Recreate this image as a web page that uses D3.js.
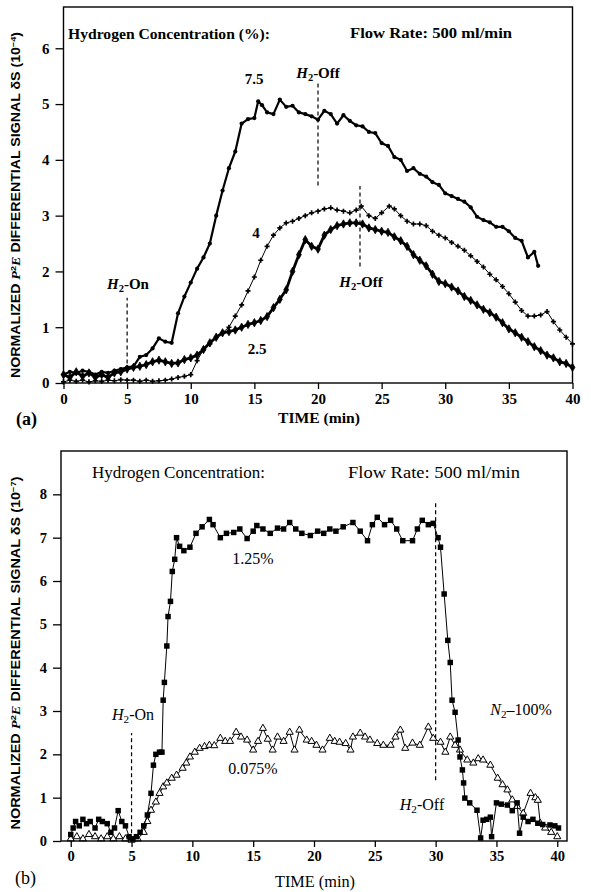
<!DOCTYPE html>
<html>
<head>
<meta charset="utf-8">
<script src="https://cdn.jsdelivr.net/npm/d3@7/dist/d3.min.js"></script>
<style>
  body { margin: 0; background: #fff; }
  svg { display: block; }
  text { font-family: "Liberation Serif", "Times New Roman", serif; fill: #000; }
</style>
</head>
<body>
<div id="chart"></div>
<script>
// ---- data: [time (min), signal] ----
const xTicks = [0, 5, 10, 15, 20, 25, 30, 35, 40];
const yTicksA = [0, 1, 2, 3, 4, 5, 6];
const yTicksB = [0, 1, 2, 3, 4, 5, 6, 7, 8];

// panel (a), units 10^-4
const conc75 = [[0,0.15],[0.5,0.2],[1,0.18],[1.5,0.22],[2,0.2],[2.5,0.15],[3,0.2],[3.5,0.18],[4,0.22],[4.5,0.25],
  [5,0.28],[5.5,0.3],[6,0.47],[6.5,0.5],[7,0.62],[7.5,0.8],[8,0.74],[8.5,0.72],[9,1.25],[9.5,1.55],[10,1.8],
  [10.5,2.05],[11,2.25],[11.5,2.5],[12,3.0],[12.5,3.45],[13,3.85],[13.5,4.15],[14,4.65],[14.5,4.73],[15,4.75],
  [15.3,5.05],[15.6,4.98],[16,4.85],[16.5,4.82],[17,5.08],[17.5,4.95],[18,4.97],[18.5,4.85],[19,4.82],[19.5,4.78],
  [20,4.72],[20.5,4.88],[21,4.82],[21.5,4.65],[22,4.8],[22.5,4.7],[23,4.62],[23.5,4.6],[24,4.5],[24.5,4.48],
  [25,4.3],[25.5,4.25],[26,4.05],[26.5,4.0],[27,3.8],[27.5,3.85],[28,3.75],[28.5,3.7],[29,3.6],[29.5,3.55],
  [30,3.4],[30.5,3.35],[31,3.3],[31.5,3.25],[32,3.15],[32.5,2.98],[33,2.92],[33.5,2.88],[34,2.8],[34.5,2.8],
  [35,2.72],[35.5,2.6],[36,2.55],[36.5,2.25],[37,2.35],[37.3,2.1]];

const conc4 = [[0,0.02],[0.5,0.05],[1,0.03],[1.5,0.05],[2,0.02],[2.5,0.04],[3,0.03],[3.5,0.05],[4,0.04],[4.5,0.06],
  [5,0.05],[5.5,0.05],[6,0.03],[6.5,0.05],[7,0.03],[7.5,0.04],[8,0.05],[8.5,0.07],[9,0.1],[9.5,0.12],[10,0.15],
  [10.5,0.4],[11,0.6],[11.5,0.7],[12,0.82],[12.5,0.9],[13,1.0],[13.5,1.2],[14,1.4],[14.5,1.65],[15,1.9],
  [15.5,2.2],[16,2.45],[16.5,2.65],[17,2.78],[17.5,2.87],[18,2.9],[18.5,2.95],[19,3.0],[19.5,3.05],[20,3.08],
  [20.5,3.12],[21,3.14],[21.5,3.1],[22,3.08],[22.5,3.05],[23,3.1],[23.4,3.17],[24,3.0],[24.5,2.95],[25,3.05],
  [25.6,3.17],[26,3.12],[26.5,3.0],[27,2.9],[27.5,2.85],[28,2.85],[28.5,2.82],[29,2.72],[29.5,2.65],[30,2.6],
  [30.5,2.52],[31,2.45],[31.5,2.38],[32,2.28],[32.5,2.18],[33,2.08],[33.5,1.95],[34,1.85],[34.5,1.73],[35,1.6],
  [35.5,1.45],[36,1.3],[36.5,1.2],[37,1.2],[37.5,1.22],[38,1.28],[38.5,1.1],[39,0.95],[39.5,0.82],[40,0.7]];

const conc25 = [[0,0.15],[0.5,0.1],[1,0.2],[1.5,0.12],[2,0.18],[2.5,0.1],[3,0.15],[3.5,0.1],[4,0.18],[4.5,0.2],
  [5,0.25],[5.5,0.28],[6,0.3],[6.5,0.33],[7,0.38],[7.5,0.41],[8,0.38],[8.5,0.35],[9,0.36],[9.5,0.42],[10,0.45],
  [10.5,0.5],[11,0.6],[11.5,0.72],[12,0.82],[12.5,0.9],[13,0.92],[13.5,0.95],[14,1.0],[14.5,1.05],[15,1.08],
  [15.5,1.12],[16,1.19],[16.5,1.35],[17,1.5],[17.5,1.67],[18,2.0],[18.5,2.3],[19,2.57],[19.5,2.45],[20,2.4],
  [20.5,2.65],[21,2.75],[21.5,2.82],[22,2.85],[22.5,2.87],[23,2.87],[23.5,2.85],[24,2.78],[24.5,2.75],[25,2.72],
  [25.5,2.7],[26,2.62],[26.5,2.55],[27,2.45],[27.5,2.3],[28,2.2],[28.5,2.1],[29,1.95],[29.5,1.82],[30,1.78],
  [30.5,1.72],[31,1.65],[31.5,1.55],[32,1.48],[32.5,1.4],[33,1.32],[33.5,1.26],[34,1.18],[34.5,1.08],[35,0.97],
  [35.5,0.9],[36,0.82],[36.5,0.74],[37,0.65],[37.5,0.58],[38,0.5],[38.5,0.45],[39,0.38],[39.5,0.35],[40,0.28]];

// panel (b), units 10^-7
const conc125 = [[0,0.15],[0.2,0.3],[0.4,0.45],[0.7,0.35],[1.0,0.5],[1.3,0.4],[1.6,0.45],[2.0,0.3],[2.3,0.5],
  [2.6,0.45],[3.0,0.4],[3.3,0.2],[3.6,0.3],[3.9,0.7],[4.2,0.45],[4.5,0.35],[4.8,0.1],[5.1,0.05],[5.4,0.1],
  [5.7,0.2],[6.0,0.35],[6.3,0.6],[6.6,1.1],[6.8,1.75],[7.0,2.0],[7.3,2.05],[7.5,2.05],[7.6,3.25],[7.7,3.66],
  [7.9,4.5],[8.0,5.18],[8.2,5.53],[8.35,6.22],[8.55,6.5],[8.7,7.0],[8.95,6.8],[9.3,6.7],[9.8,6.78],[10.3,7.1],
  [10.8,7.25],[11.4,7.42],[11.7,7.3],[12.3,7.0],[12.8,7.1],[13.4,7.12],[13.9,7.2],[14.5,6.98],[15.0,7.15],
  [15.3,7.28],[15.8,7.2],[16.4,7.1],[17.0,7.22],[17.5,7.2],[18.0,7.35],[18.5,7.2],[19.0,7.1],[19.7,7.05],
  [20.3,7.15],[20.8,7.1],[21.3,7.2],[21.8,7.15],[22.4,7.25],[23.2,7.35],[23.8,7.15],[24.4,6.93],[24.8,7.3],
  [25.2,7.47],[25.8,7.3],[26.3,7.4],[26.8,7.2],[27.3,6.93],[28.1,6.93],[28.5,7.2],[28.9,7.4],[29.4,7.3],
  [29.8,7.33],[30.2,7.0],[30.4,6.78],[30.7,5.7],[31.0,4.63],[31.2,4.12],[31.35,3.25],[31.6,2.97],[31.85,2.33],
  [32.0,1.94],[32.2,1.64],[32.3,1.34],[32.4,0.99],[32.8,0.88],[33.4,0.71],[33.7,0.07],[33.9,0.48],[34.2,0.5],
  [34.5,0.55],[34.6,0.1],[35.0,0.88],[35.4,0.85],[35.9,0.83],[36.3,0.7],[36.7,0.88],[36.9,0.18],[37.2,0.55],
  [37.6,0.45],[38.0,0.5],[38.4,0.41],[38.8,0.38],[39.4,0.37],[39.8,0.35],[40.1,0.3]];

const conc0075 = [[0,0.05],[0.5,0.1],[1,0.05],[1.5,0.15],[2,0.1],[2.5,0.05],[3,0.1],[3.5,0.05],[4,0.1],[4.5,0.05],
  [5,0.02],[5.5,0.05],[6,0.2],[6.3,0.45],[6.6,0.71],[7.0,0.9],[7.3,1.1],[7.6,1.25],[7.9,1.34],[8.3,1.45],
  [8.7,1.52],[9.2,1.68],[9.5,1.8],[9.8,1.94],[10.2,2.05],[10.6,2.14],[11.0,2.18],[11.4,2.21],[11.8,2.2],
  [12.3,2.37],[12.7,2.3],[13.1,2.3],[13.6,2.51],[14.0,2.4],[14.5,2.33],[15.0,2.1],[15.4,2.3],[15.8,2.6],
  [16.2,2.35],[16.6,2.1],[17.0,2.4],[17.5,2.3],[18.0,2.51],[18.4,2.1],[18.8,2.56],[19.4,2.33],[19.8,2.3],
  [20.2,2.21],[20.7,2.1],[21.3,2.37],[21.7,2.3],[22.1,2.28],[22.6,2.25],[23.0,2.1],[23.2,2.4],[23.8,2.49],
  [24.2,2.4],[24.6,2.33],[25.2,2.25],[25.7,2.21],[26.3,2.21],[26.7,2.4],[27.1,2.56],[27.5,2.14],[28.1,2.26],
  [28.7,2.21],[29.4,2.63],[29.8,2.37],[30.4,2.28],[30.8,2.05],[31.2,2.4],[31.6,2.21],[32.0,2.1],[32.6,1.87],
  [33.1,1.8],[33.5,1.9],[33.9,1.87],[34.5,1.75],[35.1,1.45],[35.5,1.3],[35.9,1.18],[36.3,0.95],[36.7,0.8],
  [37.2,0.64],[37.8,1.1],[38.2,1.0],[38.4,0.94],[38.6,0.41],[39.0,0.3],[39.5,0.2],[40.0,0.1]];

// dashed event markers: [time, from, to]
const eventsA = [[5, 0.35, 1.53], [20, 3.54, 5.4], [23.3, 2.09, 3.53]];
const eventsB = [[5, 0.18, 2.49], [30, 1.4, 7.8]];

const W = 591, H = 892;
const svg = d3.select("#chart").append("svg").attr("width", W).attr("height", H);

function drawFrame(g, x, y, yTicks, size) {
    let x0 = x.range()[0], x1 = x.range()[1], y0 = y.range()[0], y1 = y.range()[1];
    g.append("rect")
        .attr("x", x0).attr("y", y1).attr("width", x1 - x0).attr("height", y0 - y1)
        .attr("fill", "none").attr("stroke", "#000").attr("stroke-width", 1.4);

    let xAxis = g.append("g").attr("transform", "translate(0," + y0 + ")")
        .call(d3.axisBottom(x).tickValues(xTicks).tickFormat(d3.format("d")).tickSize(6).tickPadding(4));
    let yAxis = g.append("g").attr("transform", "translate(" + x0 + ",0)")
        .call(d3.axisLeft(y).tickValues(yTicks).tickFormat(d3.format("d")).tickSize(8).tickPadding(6));
    [xAxis, yAxis].forEach(function(a) {
        a.select(".domain").remove();
        a.selectAll("line").attr("stroke", "#000").attr("stroke-width", 1.3);
        a.selectAll("text")
            .style("font-family", "'Liberation Serif', serif")
            .attr("font-size", size)
            .attr("font-weight", "bold");
    });
}

function addText(g, x, y, str, size, bold, len, anchor) {
    let t = g.append("text").attr("x", x).attr("y", y)
        .attr("font-size", size).attr("font-weight", bold ? "bold" : "normal")
        .attr("text-anchor", anchor || "start")
        .text(str);
    if (len) t.attr("textLength", len).attr("lengthAdjust", "spacingAndGlyphs");
    return t;
}

function subLabel(g, cx, y, pre, sub, post, size) {
    let t = g.append("text").attr("x", cx).attr("y", y).attr("text-anchor", "middle")
        .attr("font-size", size);
    t.append("tspan").attr("font-style", "italic").text(pre);
    t.append("tspan").attr("font-size", size * 0.7).attr("dy", 3).text(sub);
    t.append("tspan").attr("dy", -3).text(post);
    return t;
}

function yLabel(g, cx, cy, exp, len) {
    let t = g.append("text")
        .attr("transform", "translate(" + cx + "," + cy + ") rotate(-90)")
        .attr("text-anchor", "middle")
        .style("font-family", "'Liberation Sans Narrow', 'Liberation Sans', sans-serif")
        .attr("font-weight", "bold")
        .attr("font-size", 12.5)
        .attr("textLength", len).attr("lengthAdjust", "spacingAndGlyphs");
    t.append("tspan").text("NORMALIZED ");
    t.append("tspan").attr("font-style", "italic").style("font-family", "'Liberation Serif', serif").text("P");
    t.append("tspan").attr("font-size", 8).attr("dy", -4).text("2");
    t.append("tspan").attr("font-style", "italic").style("font-family", "'Liberation Serif', serif").attr("dy", 4).text("E");
    t.append("tspan").text(" DIFFERENTIAL SIGNAL \u03B4S (10");
    t.append("tspan").attr("font-size", 8).attr("dy", -4).text(exp);
    t.append("tspan").attr("dy", 4).text(")");
}

function drawEvents(g, x, y, events) {
    g.selectAll(".ev").data(events).enter().append("line")
        .attr("x1", d => x(d[0])).attr("x2", d => x(d[0]))
        .attr("y1", d => y(d[1])).attr("y2", d => y(d[2]))
        .attr("stroke", "#000").attr("stroke-width", 1.2)
        .attr("stroke-dasharray", "4,3");
}

function drawSeries(g, x, y, data, lineWidth, symbol, symSize, fill, strokeW) {
    let line = d3.line().x(d => x(d[0])).y(d => y(d[1]));
    g.append("path").datum(data).attr("d", line)
        .attr("fill", "none").attr("stroke", "#000").attr("stroke-width", lineWidth)
        .attr("stroke-linejoin", "round");
    g.append("g").selectAll("path").data(data).enter().append("path")
        .attr("transform", d => "translate(" + x(d[0]) + "," + y(d[1]) + ")")
        .attr("d", d3.symbol().type(symbol).size(symSize))
        .attr("fill", fill).attr("stroke", "#000").attr("stroke-width", strokeW);
}

// ---------- panel (a) ----------
let ga = svg.append("g");
let xa = d3.scaleLinear().domain([0, 40]).range([63.5, 572.5]);
let ya = d3.scaleLinear().domain([0, 6.74]).range([383, 7]);

drawEvents(ga, xa, ya, eventsA);
drawSeries(ga, xa, ya, conc4, 1, d3.symbolCross, 14, "#000", 0);
drawSeries(ga, xa, ya, conc25, 2.8, d3.symbolDiamond, 20, "#000", 0.8);
drawSeries(ga, xa, ya, conc75, 2.2, d3.symbolCircle, 14, "#000", 0);
drawFrame(ga, xa, ya, yTicksA, 15);

addText(ga, 68, 39, "Hydrogen Concentration (%):", 15.5, true, 202);
addText(ga, 350, 38, "Flow Rate: 500 ml/min", 15.5, true, 162);
addText(ga, 254, 84, "7.5", 15, true, null, "middle");
addText(ga, 256, 238, "4", 15, true, null, "middle");
addText(ga, 257, 354, "2.5", 15, true, null, "middle");
subLabel(ga, 128, 289, "H", "2", "-On", 15).attr("font-weight", "bold");
subLabel(ga, 318, 78, "H", "2", "-Off", 15).attr("font-weight", "bold");
subLabel(ga, 361, 287, "H", "2", "-Off", 15).attr("font-weight", "bold");
addText(ga, 319, 423, "TIME (min)", 15, true, 82, "middle");
addText(ga, 16, 425, "(a)", 18, true);
yLabel(ga, 20, 205, "\u22124", 346);

// ---------- panel (b) ----------
let gb = svg.append("g");
let xb = d3.scaleLinear().domain([-0.8, 40.8]).range([61, 567]);
let yb = d3.scaleLinear().domain([0, 9]).range([841, 451]);

drawEvents(gb, xb, yb, eventsB);
drawSeries(gb, xb, yb, conc0075, 1, d3.symbolTriangle, 22, "#fff", 1);
drawSeries(gb, xb, yb, conc125, 1, d3.symbolSquare, 30, "#000", 0);
drawFrame(gb, xb, yb, yTicksB, 14.5);

addText(gb, 92, 478, "Hydrogen Concentration:", 16.5, false, 173);
addText(gb, 348, 478, "Flow Rate: 500 ml/min", 16.5, false, 172);
addText(gb, 253, 564, "1.25%", 16, false, null, "middle");
addText(gb, 253, 774, "0.075%", 16, false, null, "middle");
subLabel(gb, 133, 720, "H", "2", "-On", 16);
subLabel(gb, 422, 810, "H", "2", "-Off", 16);
subLabel(gb, 521, 715, "N", "2", "\u2013100%", 16);
addText(gb, 315, 887, "TIME (min)", 16, false, 80, "middle");
addText(gb, 15, 884, "(b)", 18, false);
yLabel(gb, 20, 653, "\u22127", 353);
</script>
</body>
</html>
